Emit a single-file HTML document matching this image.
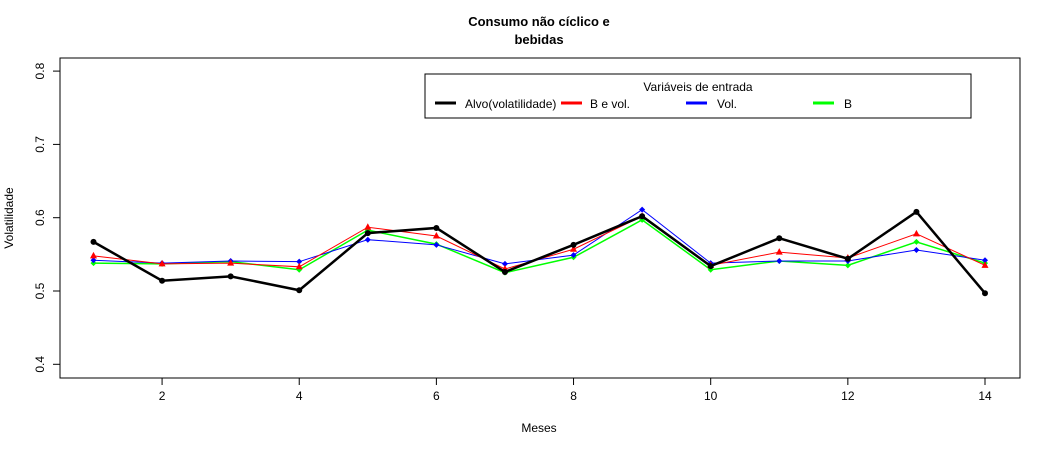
<!DOCTYPE html>
<html><head><meta charset="utf-8"><style>
body{margin:0;background:#fff}
svg{display:block;font-family:"Liberation Sans",Arial,sans-serif}
</style></head><body>
<svg id="chart" width="1050" height="450" viewBox="0 0 1050 450">
<rect width="1050" height="450" fill="#fff"/>
<text x="539" y="26" text-anchor="middle" font-size="13" font-weight="bold">Consumo não cíclico e</text>
<text x="539" y="44" text-anchor="middle" font-size="13" font-weight="bold">bebidas</text>
<rect x="60" y="58" width="960" height="320" fill="none" stroke="#000"/>
<g id="xaxis"></g>
<g id="yaxis"></g>
<text x="539" y="432" text-anchor="middle" font-size="12">Meses</text>
<text transform="translate(13,218) rotate(-90)" text-anchor="middle" font-size="12">Volatilidade</text>
<g id="series"></g>
<g>
<rect x="425" y="74" width="546" height="44" fill="#fff" stroke="#000"/>
<text x="698" y="91" text-anchor="middle" font-size="12">Variáveis de entrada</text>
<line x1="435" y1="103" x2="456" y2="103" stroke="#000" stroke-width="3"/>
<text x="465" y="108" font-size="12">Alvo(volatilidade)</text>
<line x1="561" y1="103" x2="582" y2="103" stroke="#f00" stroke-width="3"/>
<text x="590" y="108" font-size="12">B e vol.</text>
<line x1="686" y1="103" x2="707" y2="103" stroke="#00f" stroke-width="3"/>
<text x="717" y="108" font-size="12">Vol.</text>
<line x1="813" y1="103" x2="834" y2="103" stroke="#0f0" stroke-width="3"/>
<text x="844" y="108" font-size="12">B</text>
</g>
</svg>
<script>
const months=[1,2,3,4,5,6,7,8,9,10,11,12,13,14];
const alvo=[0.567,0.514,0.520,0.501,0.579,0.586,0.526,0.563,0.602,0.534,0.572,0.544,0.608,0.497];
const bevol=[0.548,0.537,0.538,0.533,0.587,0.575,0.530,0.557,0.602,0.535,0.553,0.545,0.578,0.535];
const vol=[0.542,0.538,0.541,0.540,0.570,0.563,0.537,0.549,0.611,0.538,0.541,0.541,0.556,0.542];
const bonly=[0.538,0.537,0.540,0.529,0.583,0.564,0.525,0.546,0.597,0.529,0.541,0.535,0.567,0.538];
const xTicks=[2,4,6,8,10,12,14];
const yTicks=[0.4,0.5,0.6,0.7,0.8];
const NS="http://www.w3.org/2000/svg";
function X(v){return 93.5+(v-1)*(985-93.5)/13;}
function Y(v){return 291-(v-0.5)*733;}
function mk(t,a,p){const e=document.createElementNS(NS,t);for(const k in a)e.setAttribute(k,a[k]);p.appendChild(e);return e;}
const xa=document.getElementById('xaxis'),ya=document.getElementById('yaxis'),sg=document.getElementById('series');
mk('line',{x1:X(2),x2:X(14),y1:378,y2:378,stroke:'#000'},xa);
xTicks.forEach(t=>{mk('line',{x1:X(t),x2:X(t),y1:378,y2:385,stroke:'#000'},xa);
const tx=mk('text',{x:X(t),y:400,'text-anchor':'middle','font-size':12},xa);tx.textContent=t;

});
yTicks.forEach(t=>{mk('line',{x1:53,x2:60,y1:Y(t),y2:Y(t),stroke:'#000'},ya);
const tx=mk('text',{transform:`translate(44,${Y(t)}) rotate(-90)`,'text-anchor':'middle','font-size':12},ya);tx.textContent=t.toFixed(1);

});
mk('line',{x1:53,x2:53,y1:Y(0.4),y2:Y(0.8),stroke:'none'},ya);
function series(d,col,w,shape,name){
const g=mk('g',{},sg);


mk('polyline',{points:d.map((v,i)=>X(months[i])+','+Y(v)).join(' '),fill:'none',stroke:col,'stroke-width':w},g);
d.forEach((v,i)=>{const x=X(months[i]),y=Y(v);let m;
if(shape==='c')m=mk('circle',{cx:x,cy:y,r:3,fill:col},g);
else if(shape==='t')m=mk('polygon',{points:`${x},${y-4} ${x-3.5},${y+2.5} ${x+3.5},${y+2.5}`,fill:col},g);
else m=mk('polygon',{points:`${x},${y-3} ${x+3},${y} ${x},${y+3} ${x-3},${y}`,fill:col},g);

});}
series(bonly,'#0f0',1.5,'d','series-b');
series(vol,'#00f',1,'d','series-vol');
series(bevol,'#f00',1,'t','series-b-e-vol');
series(alvo,'#000',2.5,'c','series-alvo');
</script>
</body></html>
